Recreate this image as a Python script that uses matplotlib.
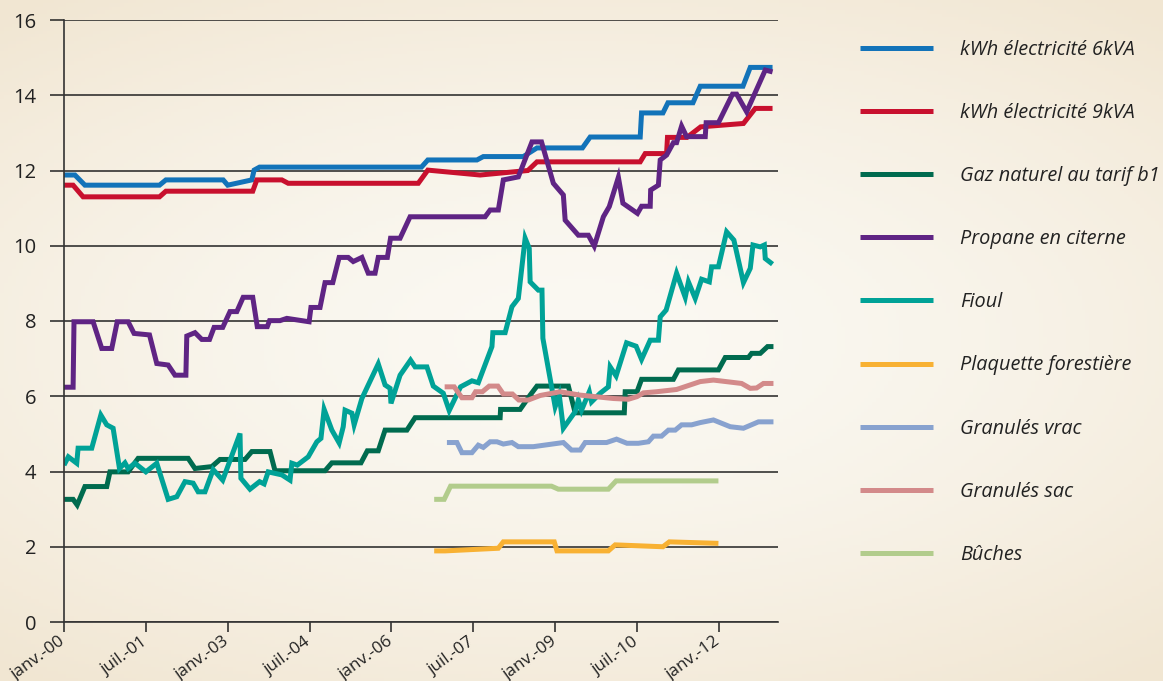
import numpy as np
import matplotlib.pyplot as plt

# Prix en c€/kWh PCI, mois depuis janv. 2000
mois_ticks = [0, 18, 36, 54, 72, 90, 108, 126, 144]
labels_ticks = ['janv.-00', 'juil.-01', 'janv.-03', 'juil.-04', 'janv.-06',
                'juil.-07', 'janv.-09', 'juil.-10', 'janv.-12']

elec6_x = [0, 2.4, 4.6, 21, 22.4, 35, 36, 41.3, 41.8, 43, 78.6, 80, 90.8, 92.2, 101, 104,
           114, 115.7, 126.7, 127, 131.7, 132.8, 138.3, 139.9, 149.3, 150.9, 155.8]
elec6_y = [11.88, 11.88, 11.61, 11.61, 11.75, 11.75, 11.61, 11.75, 12.01, 12.09, 12.09, 12.28,
           12.28, 12.37, 12.37, 12.6, 12.6, 12.89, 12.89, 13.53, 13.53, 13.8, 13.8, 14.24,
           14.24, 14.74, 14.74]

elec9_x = [0, 2, 4.2, 21, 22.4, 41.5, 42.4, 47.9, 49.3, 77.9, 80, 91.5, 102, 104, 126.7,
           127.8, 132.5, 132.7, 137, 140, 149.4, 152, 155.8]
elec9_y = [11.61, 11.61, 11.3, 11.3, 11.45, 11.45, 11.75, 11.75, 11.66, 11.66, 12.01, 11.88,
           12.0, 12.23, 12.23, 12.45, 12.45, 12.88, 12.88, 13.16, 13.25, 13.65, 13.65]

gaz_x = [0, 2, 2.9, 4.6, 9.4, 10.1, 14.1, 16.3, 27.3, 28.8, 32.5, 34.3, 39.8, 41.3, 45.3,
         46.4, 57.4, 58.9, 65.3, 66.7, 69.1, 70.6, 75.4, 77.2, 95.9, 96, 100.3, 102.5, 104,
         110.9, 112.4, 123.2, 123.4, 126, 127, 134, 135.1, 143.9, 145.4, 150.5, 151.2, 153.1,
         154.7, 156]
gaz_y = [3.26, 3.26, 3.11, 3.6, 3.6, 3.99, 3.99, 4.35, 4.35, 4.08, 4.13, 4.32, 4.32, 4.53,
         4.53, 4.02, 4.02, 4.23, 4.23, 4.55, 4.55, 5.1, 5.1, 5.43, 5.43, 5.65, 5.65, 6.03,
         6.27, 6.27, 5.56, 5.56, 6.12, 6.12, 6.45, 6.45, 6.7, 6.7, 7.03, 7.03, 7.14, 7.14,
         7.32, 7.32]

propane_x = [0, 2, 2.2, 6.4, 8.3, 10.5, 11.7, 14.1, 15.4, 18.8, 20.4, 22.9, 24.4, 26.8, 27,
             28.8, 30.3, 32, 33, 34.9, 36.5, 38, 39.4, 41.5, 42.5, 44.7, 45.2, 47.5, 49, 53.9,
             54.3, 56.3, 57.4, 59.1, 60.5, 62.5, 63.6, 65.5, 66.9, 68.4, 69.1, 71.1, 71.8,
             73.9, 76.1, 92.6, 93.7, 95.5, 96.6, 99.9, 102.9, 103.6, 105, 107.6, 109.8, 110.2,
             113.1, 115.3, 116.6, 118.6, 119.9, 121.9, 122.9, 126.1, 127, 128.9, 129, 130.7,
             131.1, 132.5, 134, 134.7, 135.8, 136.9, 141, 141.2, 143.9, 147, 147.9, 150.1,
             154.2, 155.8]
propane_y = [6.24, 6.24, 7.98, 7.98, 7.27, 7.27, 7.98, 7.98, 7.67, 7.63, 6.87, 6.83, 6.56,
             6.56, 7.6, 7.69, 7.51, 7.51, 7.83, 7.83, 8.25, 8.25, 8.63, 8.63, 7.85, 7.85, 8.01,
             8.01, 8.07, 7.98, 8.36, 8.36, 9.02, 9.02, 9.69, 9.69, 9.58, 9.69, 9.27, 9.27,
             9.69, 9.69, 10.2, 10.2, 10.77, 10.77, 10.95, 10.95, 11.75, 11.83, 12.76, 12.76,
             12.76, 11.66, 11.35, 10.68, 10.28, 10.28, 9.99, 10.77, 11.04, 11.82, 11.13, 10.86,
             11.05, 11.05, 11.48, 11.61, 12.28, 12.41, 12.74, 12.74, 13.18, 12.9, 12.9, 13.27,
             13.27, 14.03, 14.03, 13.56, 14.67, 14.62]

fioul_x = [0, 0.95, 2.8, 3.1, 6.1, 8.1, 9.4, 10.8, 12.2, 13.4, 14.1, 15.6, 18, 20.4, 22.9,
           24.8, 26.6, 28.4, 29.5, 31, 32.8, 34.9, 38.7, 38.9, 40.9, 43, 44, 44.9, 47.9, 49.7,
           50.1, 51.3, 53.7, 55.6, 56.5, 57.2, 58.9, 60.5, 61.4, 61.8, 63.3, 63.8, 65.5, 69.1,
           70.6, 71.7, 71.9, 73.9, 76.2, 77.2, 79.8, 81.2, 83.4, 84.7, 87.2, 89.7, 91.1, 94.1,
           94.3, 97, 98.5, 99.9, 101.4, 102.3, 102.5, 104.3, 105.1, 105.3, 108, 108.9, 109.8,
           112.4, 113.1, 113.8, 115.5, 116, 117.9, 119.7, 120.1, 121.4, 123.7, 125.8, 127,
           128.9, 130.7, 131.1, 132.4, 134.7, 136.6, 137.3, 138.8, 140.2, 141.9, 142.4, 143.9,
           145.7, 147.3, 149.4, 150.9, 151.5, 153.1, 154, 154.2, 155.8]
fioul_y = [4.17, 4.39, 4.22, 4.62, 4.62, 5.5, 5.24, 5.15, 4.08, 4.23, 4.08, 4.22, 3.99, 4.22,
           3.26, 3.33, 3.73, 3.69, 3.46, 3.46, 4.05, 3.77, 5.01, 3.82, 3.53, 3.73, 3.67, 3.99,
           3.91, 3.77, 4.22, 4.17, 4.39, 4.79, 4.88, 5.65, 5.1, 4.76, 5.19, 5.63, 5.55, 5.24,
           5.94, 6.86, 6.3, 6.21, 5.81, 6.56, 6.96, 6.78, 6.78, 6.27, 6.08, 5.62, 6.25, 6.41,
           6.36, 7.32, 7.69, 7.69, 8.38, 8.6, 10.2, 9.93, 9.04, 8.82, 8.82, 7.54, 5.72, 6.03,
           5.15, 5.59, 5.9, 5.63, 6.12, 5.85, 6.08, 6.25, 6.78, 6.54, 7.42, 7.33, 6.98, 7.49,
           7.49, 8.11, 8.29, 9.27, 8.63, 9.04, 8.6, 9.11, 9.04, 9.44, 9.44, 10.37, 10.15, 9.02,
           9.4, 10.02, 9.97, 10.02, 9.66, 9.51]

plaquette_x = [81.4, 83.8, 95.5, 96.6, 107.8, 108.4, 119.7, 121.2, 131.7, 133.1, 143.9]
plaquette_y = [1.89, 1.89, 1.96, 2.13, 2.13, 1.89, 1.89, 2.05, 2.0, 2.13, 2.09]

vrac_x = [84.2, 86.4, 87.5, 89.7, 91.1, 92.2, 93.7, 95.2, 96.6, 98.5, 99.9, 103.2, 109.8,
          111.6, 113.5, 114.6, 119.3, 121.5, 123.8, 126.3, 128.5, 129.6, 131.4, 132.9, 134.4,
          135.8, 138, 139.9, 142.8, 146.5, 149.4, 152.7, 156]
vrac_y = [4.77, 4.77, 4.5, 4.5, 4.7, 4.64, 4.79, 4.79, 4.73, 4.77, 4.66, 4.66, 4.77, 4.57,
          4.57, 4.77, 4.77, 4.86, 4.75, 4.75, 4.79, 4.94, 4.94, 5.1, 5.1, 5.24, 5.24, 5.3,
          5.37, 5.19, 5.15, 5.32, 5.32]

sac_x = [83.7, 85.8, 87.5, 89.7, 90.5, 92, 93.5, 95.4, 96.6, 98.6, 100, 102.1, 104.7, 109.1,
         113.5, 120.8, 124.1, 126, 127.4, 130.3, 134.7, 139.9, 142.8, 149, 150.9, 152.3,
         153.8, 156]
sac_y = [6.25, 6.25, 5.96, 5.96, 6.12, 6.12, 6.27, 6.27, 6.06, 6.06, 5.9, 5.9, 6.02, 6.12,
         6.03, 5.94, 5.92, 5.99, 6.09, 6.12, 6.18, 6.39, 6.43, 6.34, 6.21, 6.22, 6.34, 6.34]

buches_x = [81.4, 83.6, 85, 107.2, 108.7, 119.7, 121.4, 143.9]
buches_y = [3.26, 3.26, 3.61, 3.61, 3.53, 3.53, 3.75, 3.75]

series = [
    ('kWh électricité 6kVA', elec6_x, elec6_y, '#1273b9'),
    ('kWh électricité 9kVA', elec9_x, elec9_y, '#c8102e'),
    ('Gaz naturel au tarif b1', gaz_x, gaz_y, '#006b4f'),
    ('Propane en citerne', propane_x, propane_y, '#5f2484'),
    ('Fioul', fioul_x, fioul_y, '#00a297'),
    ('Plaquette forestière', plaquette_x, plaquette_y, '#f8b133'),
    ('Granulés vrac', vrac_x, vrac_y, '#88a2cf'),
    ('Granulés sac', sac_x, sac_y, '#d38a8a'),
    ('Bûches', buches_x, buches_y, '#b2cc8c'),
]

plt.rcParams['font.family'] = ['Open Sans', 'DejaVu Sans']

fig = plt.figure(figsize=(11.63, 6.81), dpi=100)

# fond parchemin (degrade)
bg = fig.add_axes([0, 0, 1, 1], zorder=-10)
gx, gy = np.meshgrid(np.linspace(-1, 1, 300), np.linspace(-1, 1, 200))
r = np.clip(np.sqrt((gx * 0.9) ** 2 + (gy * 1.1) ** 2), 0, 1.4)
c0 = np.array([251, 249, 243]) / 255
c1 = np.array([241, 230, 210]) / 255
img = c0 + (c1 - c0) * (r[..., None] / 1.4) ** 1.5
bg.imshow(img, aspect='auto', extent=[0, 1, 0, 1])
bg.axis('off')

ax = fig.add_axes([64 / 1163, 1 - 622 / 681, (778 - 64) / 1163, (622 - 20) / 681])
ax.patch.set_alpha(0)

handles = []
for nom, xs, ys, col in series:
    l, = ax.plot(xs, ys, color=col, lw=3.6, label=nom, solid_joinstyle='miter',
                 solid_capstyle='butt')
    handles.append(l)

ax.set_xlim(0, 157)
ax.set_ylim(0, 16)
ax.set_yticks(range(0, 17, 2))
ax.yaxis.grid(True, color='#222222', lw=1.1)
ax.set_axisbelow(True)
for s in ['top', 'right']:
    ax.spines[s].set_visible(False)
ax.spines['left'].set_color('#333333')
ax.spines['bottom'].set_color('#333333')
ax.spines['left'].set_linewidth(1.2)
ax.spines['bottom'].set_linewidth(1.2)
ax.tick_params(axis='y', length=10, width=1.1, color='#222222', labelsize=14.5,
               labelcolor='#222222', pad=10)
ax.tick_params(axis='x', length=7, width=1.1, color='#222222', labelsize=12.3,
               labelcolor='#222222', pad=6)
ax.set_xticks(mois_ticks)
ax.set_xticklabels(labels_ticks, rotation=36, ha='right', va='center',
                   rotation_mode='anchor')

fig.legend(handles, [s[0] for s in series], loc='upper left',
           bbox_to_anchor=(860 / 1163, 1 - 40 / 681), frameon=False,
           prop={'style': 'italic', 'size': 14.3}, handlelength=3.68, handletextpad=1.36,
           labelspacing=2.17, borderpad=0, borderaxespad=0, labelcolor='#222222')

plt.savefig('out.png', dpi=100)
